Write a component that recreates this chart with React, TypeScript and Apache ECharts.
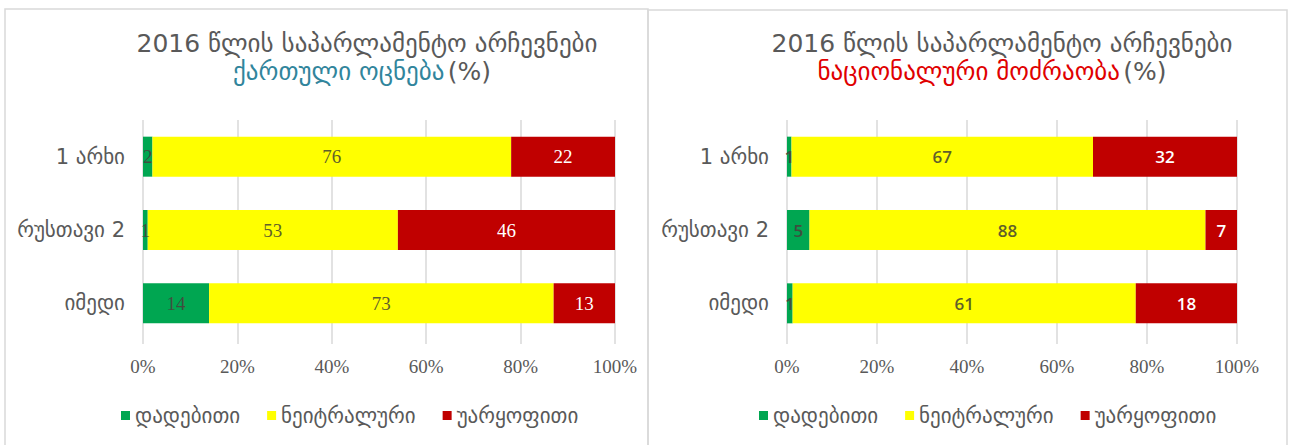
import React, { useEffect, useRef } from "react";
import * as echarts from "echarts";

const categories = ["1 არხი", "რუსთავი 2", "იმედი"];
const seriesNames = ["დადებითი", "ნეიტრალური", "უარყოფითი"];
// Left panel: ქართული ოცნება
const gdPositive = [2, 1, 14];
const gdNeutral = [76, 53, 73];
const gdNegative = [22, 46, 13];
// Right panel: ნაციონალური მოძრაობა
const nmPositive = [1, 5, 1];
const nmNeutral = [67, 88, 61];
const nmNegative = [32, 7, 18];
const xTicks = [0, 20, 40, 60, 80, 100];

const titleLine1 = "2016 წლის საპარლამენტო არჩევნები";
const leftParty = "ქართული ოცნება";
const rightParty = "ნაციონალური მოძრაობა";

const colors = ["#00a651", "#ffff00", "#c00000"];
const labelColors = ["#3f4f3f", "#5f5f2a", "#ffffff"];
const GEO = "'DejaVu Sans', 'Noto Sans', sans-serif";

function toPercent(groups: number[][]) {
  const totals = categories.map((_, i) => groups.reduce((s, g) => s + g[i], 0));
  return groups.map((g) => g.map((v, i) => (v / totals[i]) * 100));
}

export default function App() {
  const ref = useRef<HTMLDivElement>(null);
  useEffect(() => {
    if (!ref.current) return;
    const chart = echarts.init(ref.current, undefined, { renderer: "svg" });
    const leftRaw = [gdPositive, gdNeutral, gdNegative];
    const rightRaw = [nmPositive, nmNeutral, nmNegative];
    const leftPct = toPercent(leftRaw);
    const rightPct = toPercent(rightRaw);

    const mkSeries = (raw: number[][], pct: number[][], idx: number, serif: boolean) =>
      seriesNames.map((name, s) => ({
        type: "bar",
        name,
        stack: "s" + idx,
        xAxisIndex: idx,
        yAxisIndex: idx,
        barWidth: 40,
        itemStyle: { color: colors[s] },
        label: {
          show: true,
          position: "inside",
          fontSize: serif ? 19 : 17,
          fontFamily: serif ? "'Liberation Serif', serif" : "'Open Sans', 'Liberation Sans', sans-serif",
          fontWeight: serif ? "normal" : 600,
          color: labelColors[s],
          formatter: (p: any) => String(raw[s][p.dataIndex]),
        },
        data: pct[s],
      }));

    const xAxisBase = (gridIndex: number) => ({
      type: "value",
      gridIndex,
      min: 0,
      max: 100,
      interval: 20,
      axisLine: { show: false },
      axisTick: { show: true, length: 4, lineStyle: { color: "#d9d9d9", width: 1.5 } },
      splitLine: { show: true, lineStyle: { color: "#d9d9d9", width: 1.5 } },
      axisLabel: {
        formatter: (v: number) => (xTicks.includes(v) ? v + "%" : ""),
        fontSize: 19,
        color: "#595959",
        margin: 17,
        fontFamily: "'Liberation Serif', serif",
      },
    });
    const yAxisBase = (gridIndex: number) => ({
      type: "category",
      gridIndex,
      data: categories,
      inverse: true,
      axisLine: { show: false },
      axisTick: { show: false },
      axisLabel: { fontSize: 21, color: "#595959", margin: 18, fontFamily: GEO },
    });

    const legendBase = (left: number) => ({
      left,
      top: 400,
      data: seriesNames,
      icon: "rect",
      itemWidth: 9,
      itemHeight: 9,
      itemGap: 27,
      textStyle: { fontSize: 21, color: "#595959", fontFamily: GEO },
    });

    const titleText = (x: number, x2: number, party: string, color: string) => [
      {
        type: "text",
        x,
        y: 43,
        style: {
          text: titleLine1,
          fontSize: 25,
          fill: "#595959",
          fontFamily: GEO,
          align: "center",
          verticalAlign: "middle",
        },
      },
      {
        type: "text",
        x: x2,
        y: 71,
        style: {
          text: "{a|" + party + "} {b|(%)}",
          align: "center",
          verticalAlign: "middle",
          rich: {
            a: { fontSize: 25, fill: color, color, fontFamily: GEO },
            b: { fontSize: 25, fill: "#595959", color: "#595959", fontFamily: GEO },
          },
        },
      },
    ];

    chart.setOption({
      animation: false,
      grid: [
        { left: 143, width: 472, top: 120, height: 220 },
        { left: 787, width: 450, top: 120, height: 220 },
      ],
      xAxis: [xAxisBase(0), xAxisBase(1)],
      yAxis: [yAxisBase(0), yAxisBase(1)],
      legend: [legendBase(116), legendBase(754)],
      series: [...mkSeries(leftRaw, leftPct, 0, true), ...mkSeries(rightRaw, rightPct, 1, false)],
      graphic: [
        {
          type: "rect",
          shape: { x: 5, y: 9, width: 643, height: 450 },
          style: { fill: "none", stroke: "#d9d9d9", lineWidth: 1.5 },
          silent: true,
        },
        {
          type: "rect",
          shape: { x: 648, y: 10, width: 639, height: 450 },
          style: { fill: "none", stroke: "#d9d9d9", lineWidth: 1.5 },
          silent: true,
        },
        ...titleText(367, 362, leftParty, "#31859c"),
        ...titleText(1002, 992, rightParty, "#e00000"),
      ],
    });
    return () => chart.dispose();
  }, []);
  return (
    <div
      ref={ref}
      style={{ position: "fixed", left: 0, top: 0, width: 1291, height: 445, background: "#fff" }}
    />
  );
}
